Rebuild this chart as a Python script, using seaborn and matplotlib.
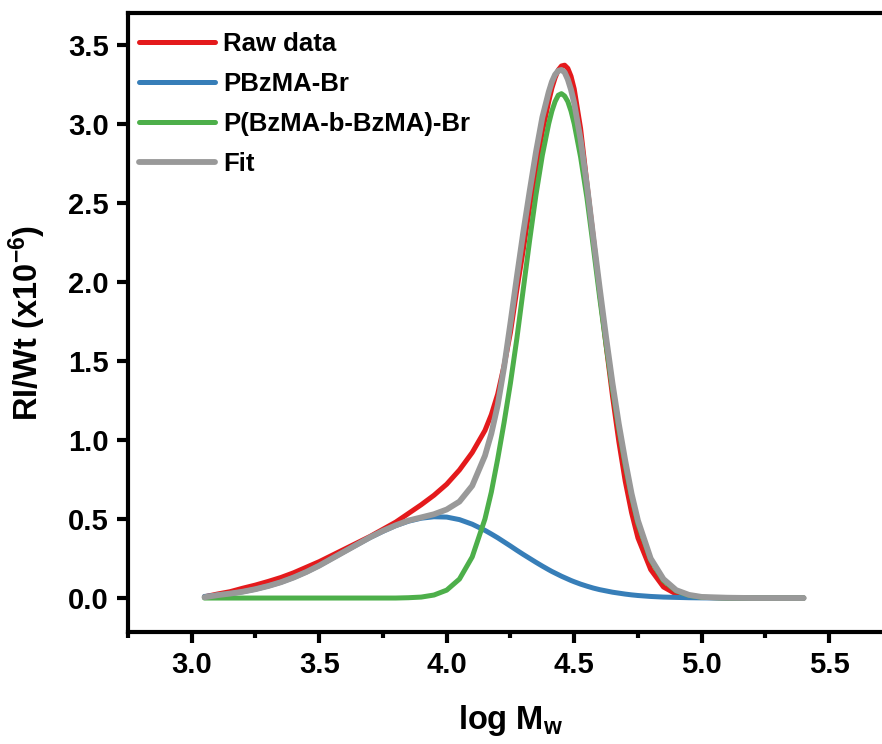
import numpy as np
import pandas as pd
import matplotlib
matplotlib.use('Agg')
import matplotlib.pyplot as plt
from matplotlib.ticker import MultipleLocator, FormatStrFormatter
import seaborn as sns

# log Mw grid shared by all traces
log_mw = [3.05, 3.1, 3.15, 3.2, 3.25, 3.3, 3.35, 3.4, 3.45, 3.5, 3.55, 3.6, 3.65, 3.7, 3.75,
          3.8, 3.85, 3.9, 3.95, 4.0, 4.05, 4.1, 4.15,
          4.175, 4.2, 4.225, 4.25, 4.275, 4.3, 4.325, 4.35, 4.375, 4.4, 4.4125, 4.425, 4.4375,
          4.45, 4.4625, 4.475, 4.4875,
          4.5, 4.525, 4.55, 4.575, 4.6, 4.625, 4.65, 4.675, 4.7, 4.725, 4.75,
          4.8, 4.85, 4.9, 4.95, 5.0, 5.1, 5.2, 5.3, 5.4]

raw_data = [0.008, 0.025, 0.04, 0.062, 0.082, 0.105, 0.13, 0.16, 0.195, 0.23, 0.27, 0.31, 0.35, 0.39, 0.435,
            0.48, 0.535, 0.59, 0.65, 0.72, 0.81, 0.92, 1.06,
            1.16, 1.29, 1.47, 1.68, 1.95, 2.2, 2.47, 2.72, 2.95, 3.14, 3.225, 3.29, 3.34,
            3.365, 3.37, 3.35, 3.3,
            3.22, 2.97, 2.62, 2.28, 1.93, 1.6, 1.28, 0.99, 0.74, 0.54, 0.38,
            0.18, 0.07, 0.025, 0.01, 0.004, 0.001, 0.0, 0.0, 0.0]

pbzma = [0.01, 0.018, 0.027, 0.04, 0.056, 0.076, 0.1, 0.13, 0.165, 0.205, 0.25, 0.295, 0.339, 0.383, 0.422,
         0.458, 0.486, 0.505, 0.514, 0.512, 0.496, 0.467, 0.428,
         0.405, 0.381, 0.355, 0.329, 0.302, 0.276, 0.251, 0.226, 0.202, 0.179, 0.168, 0.158, 0.148,
         0.138, 0.129, 0.12, 0.111,
         0.103, 0.088, 0.075, 0.063, 0.053, 0.045, 0.037, 0.031, 0.025, 0.02, 0.016,
         0.01, 0.006, 0.004, 0.002, 0.001, 0.0, 0.0, 0.0, 0.0]

block = [0.0, 0.0, 0.0, 0.0, 0.0, 0.0, 0.0, 0.0, 0.0, 0.0, 0.0, 0.0, 0.0, 0.0, 0.0,
         0.0, 0.002, 0.006, 0.019, 0.05, 0.12, 0.26, 0.5,
         0.67, 0.88, 1.11, 1.36, 1.64, 1.95, 2.26, 2.55, 2.8, 3.0, 3.08, 3.14, 3.18,
         3.19, 3.175, 3.14, 3.08,
         3.0, 2.79, 2.53, 2.22, 1.9, 1.6, 1.32, 1.07, 0.84, 0.64, 0.47,
         0.24, 0.11, 0.045, 0.017, 0.005, 0.0, 0.0, 0.0, 0.0]

fit = [0.005, 0.018, 0.028, 0.04, 0.056, 0.076, 0.1, 0.13, 0.165, 0.205, 0.25, 0.295, 0.34, 0.385, 0.425,
       0.46, 0.49, 0.51, 0.53, 0.56, 0.61, 0.71, 0.9,
       1.04, 1.22, 1.46, 1.74, 2.03, 2.31, 2.57, 2.82, 3.04, 3.2, 3.265, 3.31, 3.335,
       3.34, 3.325, 3.28, 3.215,
       3.13, 2.9, 2.61, 2.28, 1.96, 1.65, 1.36, 1.1, 0.87, 0.66, 0.49,
       0.25, 0.12, 0.05, 0.02, 0.007, 0.002, 0.0, 0.0, 0.0]

labels = ['Raw data', 'PBzMA-Br', 'P(BzMA-b-BzMA)-Br', 'Fit']
colors = ['#E41A1C', '#377EB8', '#4DAF4A', '#999999']
widths = [3.6, 3.6, 3.6, 4.2]

sns.set_style('ticks')
plt.rcParams['font.family'] = ['Liberation Sans', 'DejaVu Sans']
plt.rcParams['font.weight'] = 'bold'
plt.rcParams['text.color'] = 'black'
plt.rcParams['axes.labelcolor'] = 'black'
plt.rcParams['xtick.color'] = 'black'
plt.rcParams['ytick.color'] = 'black'
plt.rcParams['mathtext.fontset'] = 'custom'
plt.rcParams['mathtext.rm'] = 'Liberation Sans:bold'
plt.rcParams['mathtext.it'] = 'Liberation Sans:bold'
plt.rcParams['mathtext.bf'] = 'Liberation Sans:bold'
plt.rcParams['mathtext.default'] = 'rm'

fig = plt.figure(figsize=(8.82, 7.44), dpi=100)
ax = fig.add_axes([0.1451, 0.1505, 0.8673, 0.832])

for y, lab, c, w in zip([raw_data, pbzma, block, fit], labels, colors, widths):
    df = pd.DataFrame({'x': log_mw, 'y': y})
    sns.lineplot(data=df, x='x', y='y', ax=ax, color=c, linewidth=w, label=lab,
                 sort=False, solid_capstyle='round', solid_joinstyle='round')

ax.set_xlim(2.75, 5.75)
ax.set_ylim(-0.215, 3.70)
ax.xaxis.set_major_locator(MultipleLocator(0.5))
ax.xaxis.set_minor_locator(MultipleLocator(0.25))
ax.yaxis.set_major_locator(MultipleLocator(0.5))
ax.xaxis.set_major_formatter(FormatStrFormatter('%.1f'))
ax.yaxis.set_major_formatter(FormatStrFormatter('%.1f'))

for sp in ax.spines.values():
    sp.set_linewidth(3)
    sp.set_color('black')
ax.tick_params(axis='both', which='major', direction='out', length=8, width=3,
               labelsize=21, pad=6, colors='black')
ax.tick_params(axis='x', which='minor', direction='out', length=4, width=3, colors='black')
ax.tick_params(top=False, right=False)
for t in ax.get_xticklabels() + ax.get_yticklabels():
    t.set_fontweight('bold')

ax.set_xlabel('log M$_{w}$', fontsize=23.5, fontweight='bold', labelpad=17)
ax.set_ylabel('RI/Wt (x10$^{-6}$)', fontsize=23.5, fontweight='bold', labelpad=14)

ax.legend(loc='upper left', bbox_to_anchor=(0.0144, 0.97), borderaxespad=0, borderpad=0,
          frameon=False, handlelength=2.96, handletextpad=0.3,
          labelspacing=0.63, prop={'weight': 'bold', 'size': 18.5})

fig.savefig('out.png', dpi=100)
